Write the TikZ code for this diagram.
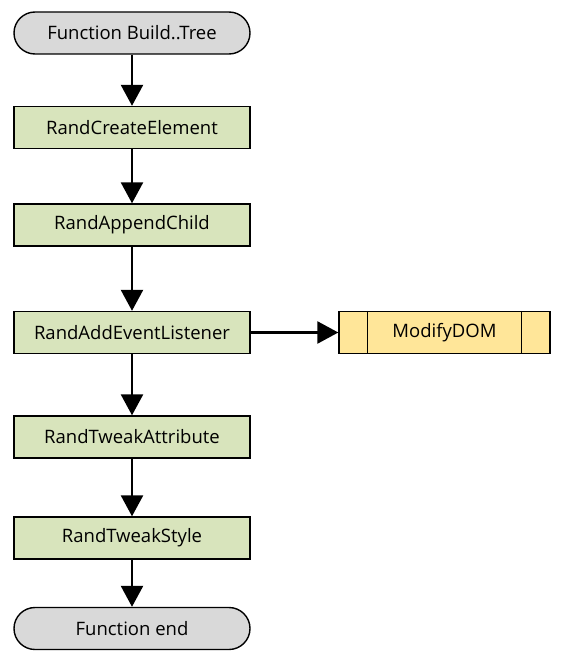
\documentclass[tikz,border=0pt]{standalone}
\usepackage{fontspec}
\setmainfont{Open Sans}
\usetikzlibrary{arrows.meta,calc}
\usepackage{xcolor}

\definecolor{termgray}{HTML}{D9D9D9}
\definecolor{procgreen}{HTML}{D8E4BC}
\definecolor{subyellow}{HTML}{FFE699}

\begin{document}
\begin{tikzpicture}[x=1pt, y=-1pt,
    term/.style={draw, line width=1.4pt, fill=termgray, rounded corners=21pt, minimum width=236pt, minimum height=42pt, inner sep=0pt, font=\fontsize{18.5}{21}\selectfont},
    proc/.style={draw, line width=1.4pt, fill=procgreen, minimum width=236pt, minimum height=42pt, inner sep=0pt, font=\fontsize{18.5}{21}\selectfont},
    subproc/.style={draw, line width=1.4pt, fill=subyellow, minimum width=211pt, minimum height=42pt, inner sep=0pt, font=\fontsize{18.5}{21}\selectfont},
    flow/.style={line width=2.6pt, -{Triangle[length=21pt,width=22pt]}}]

      \useasboundingbox (0, 0) rectangle (561, 666);

      \node[term] (start) at (132, 33) {Function Build..Tree};
      \node[proc] (create) at (132, 127.5) {RandCreateElement};
      \node[proc] (append) at (132, 225) {RandAppendChild};
      \node[proc] (listen) at (132, 332.5) {RandAddEventListener};
      \node[proc] (attr) at (132, 437) {RandTweakAttribute};
      \node[proc] (style) at (132, 538) {RandTweakStyle};
      \node[term] (stop) at (132, 628.5) {Function end};

      \node[subproc] (modify) at (444.5, 332.5) {ModifyDOM};
      \draw[line width=1.4pt] ($(modify.north west)+(29, 0)$) -- ($(modify.south west)+(29, 0)$);
      \draw[line width=1.4pt] ($(modify.north east)+(-29, 0)$) -- ($(modify.south east)+(-29, 0)$);

      \draw[flow] (start) -- (create);
      \draw[flow] (create) -- (append);
      \draw[flow] (append) -- (listen);
      \draw[flow] (listen) -- (attr);
      \draw[flow] (attr) -- (style);
      \draw[flow] (style) -- (stop);
      \draw[flow] (listen) -- (modify);

    \end{tikzpicture}
\end{document}
